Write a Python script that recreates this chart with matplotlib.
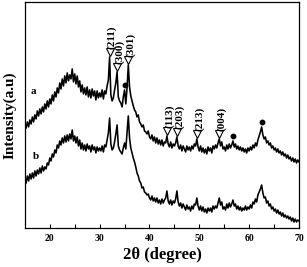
import numpy as np
import matplotlib
matplotlib.use("Agg")
import matplotlib.pyplot as plt

# 2-theta grid, 0.25 degree steps
two_theta = np.arange(15.25, 70.01, 0.25)

# sample a (upper trace), one row per degree
intensity_a = [
    100, 106, 101, 108,  104, 111, 106, 113,  109, 117, 112, 119,
    114, 121, 116, 124,  119, 127, 121, 129,  124, 133, 127, 136,
    131, 140, 135, 145,  139, 149, 142, 152,  145, 155, 147, 153,
    149, 159, 146, 154,  144, 152, 141, 147,  136, 143, 134, 140,
    133, 141, 131, 138,  130, 139, 132, 137,  128, 137, 130, 135,
    131, 138, 129, 137,  134, 142, 148, 171,  133, 127, 130, 138,
    145, 156, 131, 127,  125, 121, 131, 138,  124, 140, 163, 141,
    132, 127, 122, 118,  116, 111, 113, 106,  104, 101, 103, 97,
    96, 94, 97, 91,      89, 93, 87, 91,      85, 90, 84, 88,
    83, 88, 82, 86,      85, 92, 84, 81,      86, 80, 84, 82,
    85, 91, 82, 79,      83, 77, 82, 79,      76, 82, 78, 81,
    77, 82, 79, 84,      82, 89, 81, 77,      82, 76, 80, 75,
    79, 74, 81, 77,      80, 75, 82, 79,      83, 80, 85, 89,
    82, 86, 79, 81,      77, 83, 79, 84,      80, 83, 87, 81,
    84, 79, 82, 78,      81, 77, 80, 76,      79, 75, 80, 77,
    81, 78, 83, 80,      85, 82, 88, 92,      96, 101, 93, 89,
    91, 85, 87, 83,      85, 80, 82, 78,      80, 76, 79, 75,
    77, 73, 76, 72,      74, 70, 73, 69,      71, 67, 70, 66,
    69, 65, 68, 66,
]

# sample b (lower trace)
intensity_b = [
    45, 52, 47, 54,      49, 55, 50, 57,      52, 58, 54, 60,
    55, 62, 57, 61,      59, 65, 63, 70,      67, 74, 71, 78,
    75, 83, 80, 87,      83, 90, 85, 92,      86, 93, 87, 94,
    89, 98, 87, 92,      85, 91, 82, 88,      79, 85, 78, 83,
    77, 84, 79, 82,      76, 83, 78, 81,      75, 81, 77, 80,
    77, 82, 76, 83,      81, 88, 95, 110,     84, 78, 80, 86,
    94, 103, 82, 78,     76, 74, 80, 85,      79, 95, 112, 90,
    80, 75, 70, 66,      61, 55, 52, 47,      45, 40, 41, 36,
    35, 33, 34, 30,      28, 32, 27, 30,      26, 30, 25, 28,
    24, 29, 25, 28,      30, 37, 27, 24,      28, 23, 27, 25,
    29, 37, 26, 22,      25, 20, 24, 21,      18, 23, 19, 21,
    17, 22, 19, 24,      23, 30, 22, 18,      22, 17, 21, 16,
    19, 15, 20, 17,      20, 16, 22, 19,      22, 20, 25, 30,
    23, 26, 19, 21,      18, 24, 20, 25,      21, 24, 28, 22,
    24, 19, 22, 18,      21, 17, 20, 18,      22, 18, 21, 19,
    23, 20, 26, 24,      29, 26, 33, 36,      39, 43, 35, 30,
    31, 25, 27, 22,      24, 19, 21, 17,      19, 15, 18, 14,
    16, 12, 15, 11,      13, 10, 12, 9,       11, 7, 10, 6,
    9, 6, 8, 7,
]

# indexed reflections (open triangles) and second phase (dots)
hkl_theta = [32.0, 33.5, 35.75, 43.5, 45.5, 49.5, 54.0]
hkl_labels = ["(211)", "(300)", "(301)", "(113)", "(203)", "(213)", "(004)"]
dot_theta = [35.0, 56.75, 62.5]

serif = "Liberation Serif"

fig = plt.figure(figsize=(3.07, 2.67), dpi=100)
ax = fig.add_axes([0.081, 0.146, 0.893, 0.847])

ax.plot(two_theta, intensity_a, color="black", lw=1.15)
ax.plot(two_theta, intensity_b, color="black", lw=1.15)

for t, lab in zip(hkl_theta, hkl_labels):
    y = np.interp(t, two_theta, intensity_a) + 5
    ax.plot(t, y, marker="v", ms=5.5, mfc="white", mec="black", mew=0.8)
    ax.text(t + 0.5, y + 3, lab, rotation=90, ha="center", va="bottom",
            family=serif, fontweight="bold", fontsize=8)

for t in dot_theta:
    y = np.interp(t, two_theta, intensity_a) + 5
    ax.plot(t, y, marker="o", ms=3.2, color="black")

ax.text(16.8, 136, "a", family=serif, fontweight="bold", fontsize=8,
        ha="center", va="center")
ax.text(17.2, 71, "b", family=serif, fontweight="bold", fontsize=8,
        ha="center", va="center")

ax.set_xlim(15, 70)
ax.set_ylim(0, 226)
ax.set_xticks([20, 30, 40, 50, 60, 70])
ax.set_xticks([25, 35, 45, 55, 65], minor=True)
ax.set_yticks([])
ax.tick_params(axis="x", which="both", direction="in", length=3, width=0.8,
               pad=4)
for lbl in ax.get_xticklabels():
    lbl.set_family(serif)
    lbl.set_fontweight("bold")
    lbl.set_fontsize(7)
for s in ax.spines.values():
    s.set_linewidth(0.9)

ax.set_xlabel("2θ (degree)", family=serif, fontweight="bold", fontsize=12,
              labelpad=3)
ax.set_ylabel("Intensity(a.u)", family=serif, fontweight="bold", fontsize=11,
              labelpad=6)

fig.savefig("out.png", dpi=100)
